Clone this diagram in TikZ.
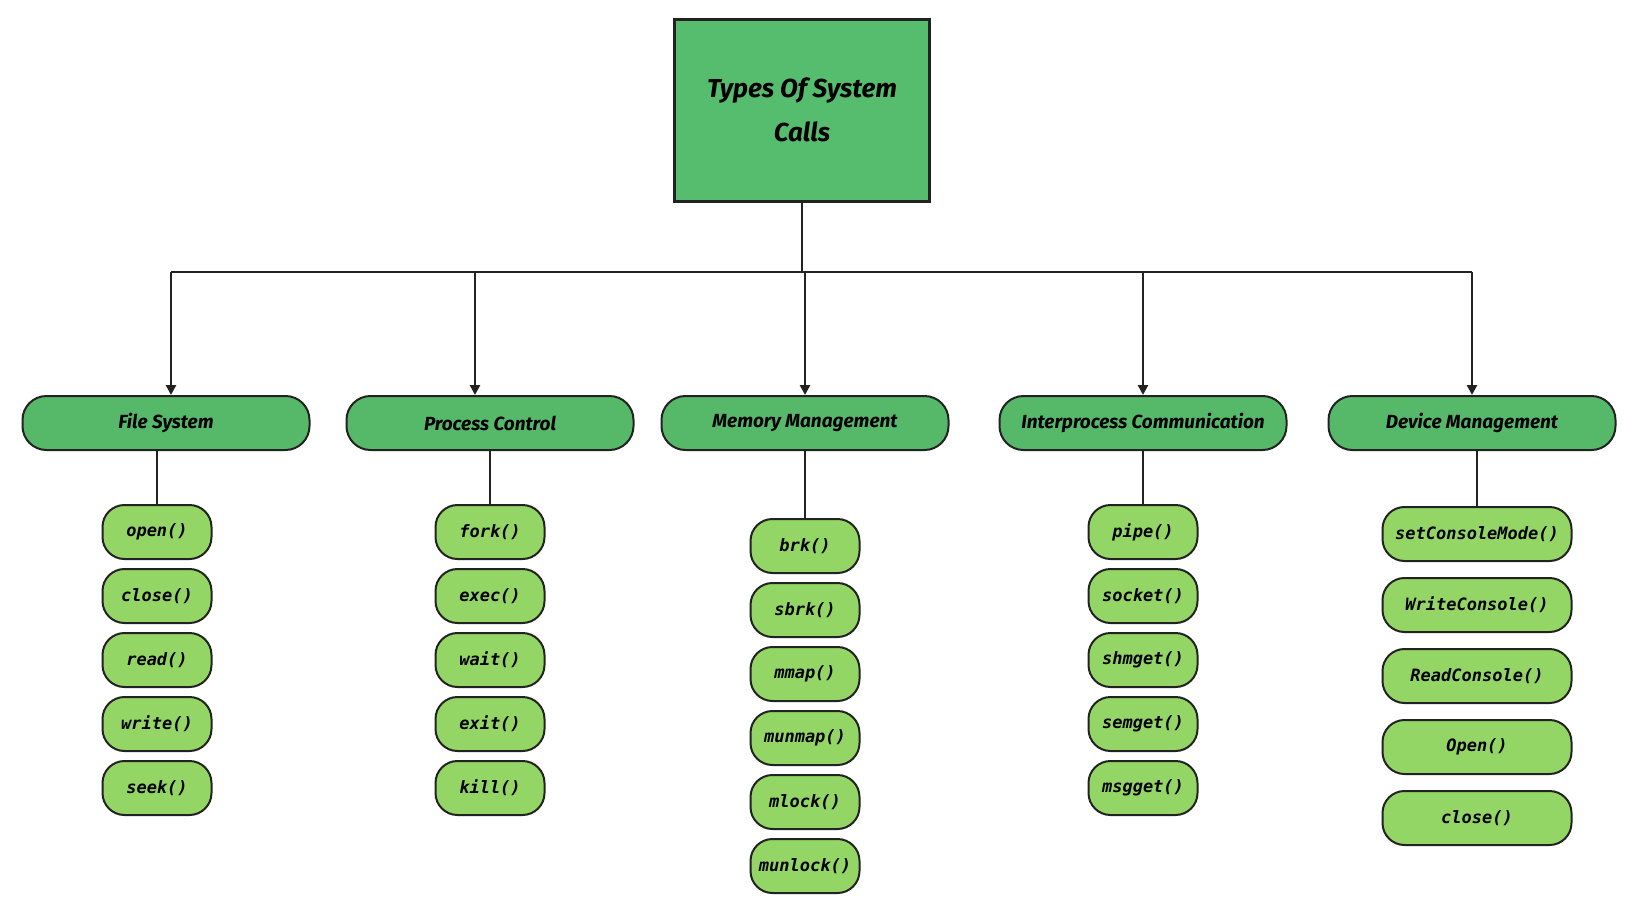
\documentclass[tikz,border=0pt]{standalone}
\usepackage{fontspec}
\setsansfont{Fira Sans}
\setmonofont{DejaVu Sans Mono}
\usetikzlibrary{arrows.meta}
\definecolor{rootgreen}{HTML}{57BD6E}
\definecolor{catgreen}{HTML}{56B96A}
\definecolor{leafgreen}{HTML}{93D665}
\definecolor{edgegray}{HTML}{222222}
\tikzset{
  rootbox/.style={draw=edgegray,line width=3pt,fill=rootgreen,minimum width=255pt,
    minimum height=182pt,align=center,font=\sffamily\bfseries\itshape\fontsize{26}{44}\selectfont},
  catbox/.style={draw=edgegray,line width=2pt,fill=catgreen,rounded corners=24pt,
    minimum width=287pt,minimum height=54pt,inner sep=0pt,
    font=\sffamily\bfseries\itshape\fontsize{19}{22}\selectfont},
  leafbox/.style={draw=edgegray,line width=2pt,fill=leafgreen,rounded corners=22pt,
    minimum width=109pt,minimum height=54pt,inner sep=0pt,
    font=\ttfamily\bfseries\itshape\fontsize{17}{20}\selectfont},
  widebox/.style={leafbox,minimum width=189pt},
  link/.style={draw=edgegray,line width=2.8pt},
  arrowlink/.style={link,-{Triangle[length=10pt,width=10pt]}}
}
\begin{document}
\begin{tikzpicture}[x=1pt,y=-1pt]
\useasboundingbox (0,0) rectangle (1642,900);
%% root and categories
\node[rootbox] (root) at (802,110) {Types Of System\\Calls};
\coordinate (bar) at (802,272);
\node[catbox] (fs) at (166,423) {File System};
\node[catbox] (pc) at (490,423) {Process Control};
\node[catbox] (mm) at (805,423) {Memory Management};
\node[catbox] (ipc) at (1143,423) {Interprocess Communication};
\node[catbox] (dm) at (1472,423) {Device Management};
\coordinate (fstop) at ([xshift=5pt]fs.north);
\coordinate (pctop) at ([xshift=-15pt]pc.north);
%% file system
\node[leafbox] (open) at (157,532) {open()};
\node[leafbox] (close) at (157,596) {close()};
\node[leafbox] (read) at (157,660) {read()};
\node[leafbox] (write) at (157,724) {write()};
\node[leafbox] (seek) at (157,788) {seek()};
%% process control
\node[leafbox] (fork) at (490,532) {fork()};
\node[leafbox] (exec) at (490,596) {exec()};
\node[leafbox] (wait) at (490,660) {wait()};
\node[leafbox] (exit) at (490,724) {exit()};
\node[leafbox] (kill) at (490,788) {kill()};
%% memory management
\node[leafbox] (brk) at (805,546) {brk()};
\node[leafbox] (sbrk) at (805,610) {sbrk()};
\node[leafbox] (mmap) at (805,674) {mmap()};
\node[leafbox] (munmap) at (805,738) {munmap()};
\node[leafbox] (mlock) at (805,802) {mlock()};
\node[leafbox] (munlock) at (805,866) {munlock()};
%% interprocess communication
\node[leafbox] (pipe) at (1143,532) {pipe()};
\node[leafbox] (socket) at (1143,596) {socket()};
\node[leafbox] (shmget) at (1143,660) {shmget()};
\node[leafbox] (semget) at (1143,724) {semget()};
\node[leafbox] (msgget) at (1143,788) {msgget()};
%% device management
\node[widebox] (setmode) at (1477,534) {setConsoleMode()};
\node[widebox] (wcons) at (1477,605) {WriteConsole()};
\node[widebox] (rcons) at (1477,676) {ReadConsole()};
\node[widebox] (dopen) at (1477,747) {Open()};
\node[widebox] (dclose) at (1477,818) {close()};
%% connectors
\draw[link] (root.south) -- (bar);
\draw[link] (fstop |- bar) -- (dm.north |- bar);
\draw[arrowlink] (fstop |- bar) -- (fstop);
\draw[arrowlink] (pctop |- bar) -- (pctop);
\draw[arrowlink] (mm.north |- bar) -- (mm.north);
\draw[arrowlink] (ipc.north |- bar) -- (ipc.north);
\draw[arrowlink] (dm.north |- bar) -- (dm.north);
\draw[link] (fs.south -| open.north) -- (open.north);
\draw[link] (pc.south -| fork.north) -- (fork.north);
\draw[link] (mm.south -| brk.north) -- (brk.north);
\draw[link] (ipc.south -| pipe.north) -- (pipe.north);
\draw[link] (dm.south -| setmode.north) -- (setmode.north);
\end{tikzpicture}
\end{document}
